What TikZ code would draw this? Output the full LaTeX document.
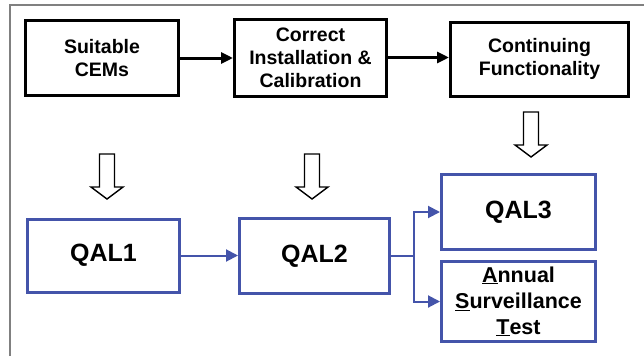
\documentclass[tikz,border=0pt]{standalone}
\usepackage{fontspec}
\setmainfont{Liberation Sans}
\usetikzlibrary{arrows.meta}
\definecolor{qalblue}{RGB}{68,84,170}
\tikzset{
  topbox/.style={draw=black, line width=3pt, align=center, inner sep=0pt,
    font=\bfseries\fontsize{19.5}{23}\selectfont},
  qalbox/.style={draw=qalblue, line width=3pt, align=center, inner sep=0pt,
    font=\bfseries\fontsize{25}{30}\selectfont},
  blackarrow/.style={line width=3pt, -{Triangle[length=12pt,width=11pt]}},
  bluearrow/.style={draw=qalblue, line width=2pt, -{Triangle[length=12pt,width=12pt]}},
  hollowdown/.pic={
    \draw[line width=1.4pt, fill=white, line join=miter]
      (-7.5,0) -- (7.5,0) -- (7.5,33) -- (16,33) -- (0,45) -- (-16,33) -- (-7.5,33) -- cycle;}
}
\begin{document}
\begin{tikzpicture}[x=1pt, y=-1pt]
	\useasboundingbox (0,0) rectangle (644,356);
	% frame
	\draw [gray, line width=1.5pt] (10,356) -- (10,5) -- (644,5);
	% top row
	\node [topbox, minimum width=153pt, minimum height=75pt] (cems) at (102,58) {Suitable\\CEMs};
	\node [topbox, minimum width=152pt, minimum height=77pt] (install) at (310.5,57.5) {Correct\\Installation \&\\Calibration};
	\node [topbox, minimum width=178pt, minimum height=74pt] (func) at (539.5,59) {Continuing\\Functionality};
	\draw [blackarrow] (cems.east) -- (cems.east -| install.west);
	\draw [blackarrow] (install.east) -- (install.east -| func.west);
	% hollow arrows
	\pic at (107,154) {hollowdown};
	\pic at (312,154) {hollowdown};
	\pic at (531,112) {hollowdown};
	% bottom row
	\node [qalbox, minimum width=152pt, minimum height=73pt] (qal1) at (103.5,255.5) {QAL1};
	\node [qalbox, minimum width=150pt, minimum height=75pt] (qal2) at (314.5,256) {QAL2};
	\node [qalbox, minimum width=154pt, minimum height=75pt] (qal3) at (518.5,212) {QAL3};
	\node [qalbox, minimum width=154pt, minimum height=80pt,
	  font=\bfseries\fontsize{21.5}{26}\selectfont] (ast) at (518.5,301.5)
	  {\underline{A}nnual\\\underline{S}urveillance\\\underline{T}est};
	\draw [bluearrow] (qal1.east) -- (qal1.east -| qal2.west);
	\coordinate (split) at (414,256);
	\draw [draw=qalblue, line width=2pt] (qal2.east) -- (split);
	\draw [bluearrow] (split) |- (qal3.west);
	\draw [bluearrow] (split) |- (ast.west);
\end{tikzpicture}
\end{document}
